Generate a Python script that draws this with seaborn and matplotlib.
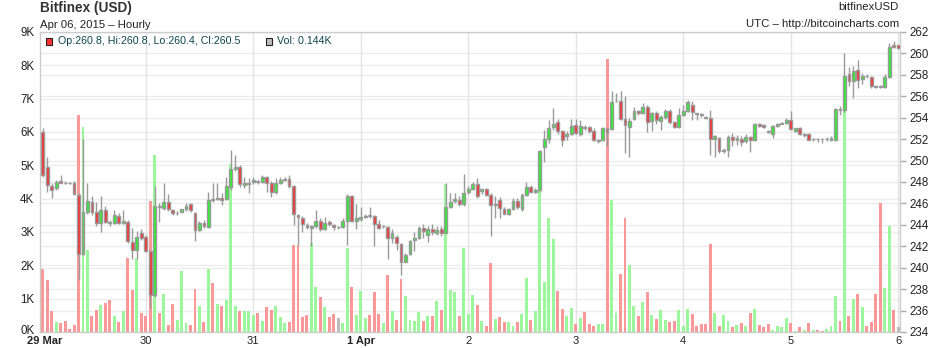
import numpy as np
import matplotlib
matplotlib.use("Agg")
import matplotlib.pyplot as plt
import matplotlib.transforms as mtransforms
from matplotlib.patches import Rectangle
import seaborn as sns

# ---------------- data (hourly, Mar 29 01:00 .. Apr 6 00:00) ----------------
opens = [252.7,249.4,247.6,247.4,248.05,247.95,247.95,247.9,246.8,241.3,245.2,246.1,245.2,244.2,245.4,244.25,
         244.2,244.8,244.2,244.3,242.4,241.7,243.2,242.9,241.6,237.5,245.75,245.6,246.1,245.4,245.1,245.2,
         245.5,245.9,245.1,243.5,244.2,243.8,246.45,246.4,246.5,246.4,247.5,249.2,249.4,247.7,247.8,248.0,
         248.1,248.0,248.5,247.9,247.1,247.9,248.2,248.3,247.6,244.9,244.6,244.0,243.7,243.9,244.4,243.6,
         244.3,243.95,243.8,243.8,244.4,246.7,244.4,244.55,244.75,244.9,244.8,244.1,243.85,243.8,242.8,242.9,
         242.2,240.55,241.3,242.6,242.8,243.7,243.1,243.6,243.25,243.6,243.25,245.7,246.2,246.3,245.95,247.05,
         247.35,247.8,247.15,247.35,246.8,245.9,246.3,245.5,245.05,245.45,246.2,245.45,246.8,247.5,247.1,247.25,
         251.3,252.05,253.1,253.6,252.75,252.3,252.45,253.3,252.45,253.1,253.1,252.8,251.8,251.9,253.0,252.95,
         255.55,255.6,253.9,253.15,253.85,254.6,254.4,255.0,253.65,254.45,253.7,254.1,254.6,253.6,253.1,254.25,
         254.65,255.2,254.4,254.32,254.05,254.0,252.05,252.1,250.9,250.95,252.2,251.9,252.0,251.85,252.2,251.9,
         253.4,253.3,252.8,252.5,253.2,253.45,253.5,253.75,252.75,253.0,252.4,252.45,251.98,252.02,252.02,251.98,
         251.95,251.95,254.85,254.7,258.05,257.4,258.45,257.65,257.92,257.8,256.92,256.92,256.9,257.8,260.8,260.8]
highs = [253.0,250.3,247.9,248.2,248.7,248.1,248.0,248.1,247.0,252.0,247.9,246.7,246.1,246.7,245.8,244.5,
         245.4,245.1,245.4,244.5,243.7,243.4,243.6,243.1,241.7,247.6,246.0,247.9,246.9,245.5,245.25,245.5,
         246.0,246.0,245.2,244.4,244.5,247.1,247.9,247.9,247.0,248.5,251.0,250.5,249.6,248.5,248.4,248.5,
         248.2,248.7,248.6,248.1,248.4,248.5,248.5,248.7,247.7,245.0,244.8,244.2,244.0,245.4,244.6,244.7,
         244.5,244.1,243.9,244.6,246.9,246.8,245.95,245.7,245.0,245.7,244.9,244.5,243.95,243.9,243.6,243.1,
         242.3,241.4,242.6,243.3,243.9,244.1,243.9,244.1,243.9,243.9,247.9,247.0,247.0,246.7,248.75,247.6,
         248.0,248.4,247.4,247.45,247.0,246.7,246.6,245.7,245.6,246.5,246.5,247.0,248.0,247.7,247.4,251.0,
         252.9,253.8,254.9,253.9,252.9,252.8,253.85,253.9,253.8,253.3,253.2,253.0,252.0,253.1,253.05,256.5,
         256.3,256.5,256.0,254.0,255.0,254.75,255.4,255.2,254.55,254.6,254.3,254.8,254.8,253.7,254.9,255.2,
         255.7,255.6,254.45,254.45,254.2,254.7,252.35,252.2,251.15,252.35,252.6,252.35,252.25,252.45,252.3,253.5,
         253.5,253.4,252.9,253.35,253.5,253.6,254.0,254.6,253.05,253.1,252.6,252.6,252.1,252.1,252.1,252.2,
         252.25,254.95,255.05,260.05,258.7,258.8,259.4,258.2,258.05,257.9,257.05,257.05,258.1,261.0,261.2,260.8]
lows = [248.5,247.1,246.5,247.3,247.9,247.8,247.8,246.8,238.9,241.2,245.0,244.9,243.9,243.3,244.2,243.9,
        244.1,244.1,244.1,242.3,240.8,240.8,242.6,241.5,236.2,237.3,244.3,245.4,245.3,244.9,244.95,245.2,
        245.3,245.2,242.5,243.4,243.7,243.7,246.1,246.3,245.9,246.3,247.3,249.0,247.5,247.4,247.0,247.8,
        247.8,247.9,247.1,246.6,246.9,247.8,248.1,247.4,244.0,242.1,243.3,243.6,242.0,243.7,243.4,243.5,
        243.9,243.5,243.6,243.7,242.1,244.3,243.6,244.4,244.6,244.6,242.0,243.6,243.7,240.8,242.3,241.7,
        239.3,240.5,241.2,241.6,242.7,242.8,242.4,243.1,243.1,243.0,243.2,245.6,246.0,245.8,245.8,246.9,
        247.3,246.5,246.9,246.7,243.0,244.6,244.6,245.0,244.95,245.35,245.5,245.3,246.7,246.95,246.95,247.1,
        249.9,251.6,252.9,252.5,251.4,251.9,252.35,252.5,252.3,252.9,252.6,251.8,251.6,251.8,251.35,252.9,
        255.5,253.8,250.7,250.35,253.8,254.3,254.35,252.65,252.8,253.4,252.9,253.9,253.45,253.0,253.0,254.15,
        254.5,253.8,253.8,254.1,253.9,250.5,250.35,250.75,250.75,250.35,251.4,251.45,251.35,251.65,250.8,251.8,
        253.1,253.0,252.6,252.1,253.15,253.4,253.4,252.9,252.65,252.35,252.2,251.9,251.8,251.75,251.6,251.8,
        251.85,251.85,254.3,254.55,257.0,255.85,256.8,257.1,257.75,256.8,256.8,256.8,256.8,257.75,260.5,260.4]
closes = [248.7,247.7,247.3,248.0,247.95,247.9,247.9,246.9,241.3,245.2,246.2,245.2,244.2,245.4,244.3,244.2,
          244.9,244.2,244.4,242.5,241.7,242.9,242.8,241.6,237.5,245.8,245.7,246.1,245.5,245.1,245.15,245.5,
          245.8,245.4,243.5,244.2,243.9,246.3,246.3,246.5,246.3,247.6,249.2,249.4,247.8,247.9,247.95,248.2,
          248.0,248.5,247.9,247.1,247.9,248.2,248.25,247.6,245.0,244.7,244.1,243.8,243.9,244.4,243.6,244.2,
          244.1,243.8,243.8,244.4,246.7,244.4,244.6,244.75,244.8,244.8,244.1,243.7,243.9,242.8,243.2,242.3,
          240.55,241.2,242.5,242.8,243.7,243.4,243.6,243.3,243.5,243.2,245.65,246.1,246.4,245.95,247.0,247.35,
          247.85,246.7,247.3,246.8,245.9,245.95,245.6,245.05,245.45,246.2,245.65,246.8,247.55,247.1,247.25,250.9,
          252.0,253.0,253.45,252.8,251.9,252.45,253.2,252.6,253.2,253.05,252.8,251.9,251.9,253.0,252.7,255.5,
          255.6,253.9,253.3,253.7,254.6,254.45,255.0,253.6,254.4,253.8,254.1,254.6,253.6,253.1,254.25,254.65,
          255.5,254.55,254.35,254.28,254.0,252.05,252.3,250.9,251.0,252.2,251.9,252.1,251.7,252.2,251.9,253.4,
          253.2,253.15,252.7,253.2,253.4,253.5,253.75,252.95,253.0,252.45,252.5,251.95,252.02,251.98,251.98,252.02,
          252.1,254.85,254.7,257.9,257.4,258.35,257.5,257.9,257.88,257.0,256.88,256.88,257.8,260.6,260.6,260.5]
volumes_k = [1.88,1.55,0.62,0.30,0.27,0.34,0.10,0.22,6.52,6.15,2.45,0.47,0.67,0.80,0.87,0.97,
             0.49,0.31,0.64,2.22,1.25,2.23,0.57,0.47,3.94,5.31,0.57,1.15,0.20,0.85,0.35,1.83,
             0.27,0.20,1.28,0.77,0.30,1.88,1.46,0.85,0.77,0.97,5.04,0.79,0.62,0.62,0.64,0.52,
             0.57,0.34,0.74,0.67,0.77,0.44,0.27,0.29,2.60,2.60,0.44,0.50,2.68,1.34,1.04,0.74,
             0.45,0.55,0.42,0.27,2.53,1.36,0.51,1.24,0.42,0.52,1.21,0.54,0.27,1.70,0.64,0.37,
             1.60,1.09,0.37,0.34,0.60,0.34,0.49,0.49,0.94,0.67,4.44,1.27,1.21,0.47,2.53,0.55,
             1.12,0.82,0.34,0.17,2.06,0.40,0.45,0.30,0.30,0.17,0.30,0.55,1.61,0.37,0.64,4.29,
             1.51,3.43,2.78,1.24,0.70,0.49,0.73,0.25,0.43,0.61,0.25,0.19,0.25,0.23,8.20,3.96,
             0.57,1.73,3.42,2.00,0.79,0.47,0.89,1.21,0.52,0.40,0.67,0.37,0.29,0.34,0.67,0.17,
             0.70,0.55,0.17,0.25,0.25,2.63,0.57,0.17,0.52,0.34,0.14,0.22,0.27,0.17,0.57,0.70,
             0.22,0.14,0.25,0.07,0.17,0.14,0.42,0.27,0.04,0.14,0.07,0.27,0.07,0.07,0.04,0.09,
             0.19,1.09,0.34,6.70,0.49,0.99,1.15,0.74,0.17,0.30,1.15,3.87,1.32,3.18,0.67,0.144]

day_ticks = [1.4, 24, 48, 72, 96, 120, 144, 168, 192]
day_labels = ["29 Mar", "30", "31", "1 Apr", "2", "3", "4", "5", "6"]
price_ticks = list(range(234, 263, 2))
vol_ticks = list(range(0, 10))
vol_labels = [f"{v}K" for v in vol_ticks]

# ---------------- styling ----------------
sns.set_theme(style="white")
plt.rcParams["font.family"] = ["Liberation Sans", "DejaVu Sans"]

UP, DN = "#2cf02c", "#f73232"
VUP, VDN, VNEU = "#9cf79c", "#fd9898", "#bdbdbd"
EDGE = "#9a9a9a"
GRID = "#ececec"

W, H = 940, 348
fig = plt.figure(figsize=(W / 100, H / 100), dpi=100)
fig.patch.set_facecolor("white")
L, R, T, B = 40, 900, 32, 332
ax = fig.add_axes([L / W, 1 - B / H, (R - L) / W, (B - T) / H])

hours = np.arange(1, len(opens) + 1)
o = np.array(opens); c = np.array(closes); hi = np.array(highs); lo = np.array(lows)
vol = np.array(volumes_k)

PMIN, PMAX, VMAX = 234, 262, 9
def v2p(v):
    return PMIN + np.asarray(v) * (PMAX - PMIN) / VMAX
def p2v(p):
    return (np.asarray(p) - PMIN) * VMAX / (PMAX - PMIN)

# gridlines
for p in price_ticks:
    ax.axhline(p, color=GRID, lw=1, zorder=0)
for v in vol_ticks:
    ax.axhline(v2p(v), color=GRID, lw=1, zorder=0)
for d in day_ticks[1:]:
    ax.axvline(d, color="#e4e4e4", lw=1, zorder=0)

# volume bars
vcols = [VUP if cc > oo else (VDN if cc < oo else VNEU) for oo, cc in zip(o, c)]
vcols[-1] = VNEU
ax.bar(hours, v2p(vol) - PMIN, bottom=PMIN, width=0.66, color=vcols, linewidth=0, zorder=1)

# candles
ax.vlines(hours, lo, hi, color=EDGE, lw=1, zorder=2)
bcols = [UP if cc > oo else (DN if cc < oo else EDGE) for oo, cc in zip(o, c)]
ax.bar(hours, np.abs(c - o), bottom=np.minimum(o, c), width=0.64, color=bcols,
       edgecolor=EDGE, linewidth=1, zorder=3)

ax.set_xlim(0.4, 192.4)
ax.set_ylim(PMIN, PMAX)

# right price axis
ax.yaxis.tick_right()
ax.set_yticks(price_ticks)
ax.set_yticklabels([str(p) for p in price_ticks])
ax.tick_params(axis="y", right=True, length=4, width=1, color="#aaaaaa", pad=3,
               labelsize=8.3, labelcolor="#222222")

# left volume axis
sec = ax.secondary_yaxis("left", functions=(p2v, v2p))
sec.set_yticks(vol_ticks)
sec.set_yticklabels(vol_labels)
sec.tick_params(axis="y", length=0, pad=4, labelsize=8.3, labelcolor="#222222")
sec.spines["left"].set_visible(False)
lift = mtransforms.ScaledTranslation(0, 2.5 / 100, fig.dpi_scale_trans)
for lab in sec.get_yticklabels():
    if lab.get_text() == "0K":
        lab.set_transform(lab.get_transform() + lift)

# x axis
ax.set_xticks(day_ticks)
ax.set_xticklabels(day_labels)
ax.tick_params(axis="x", length=0, pad=3.2, labelsize=8, labelcolor="#222222")
for lab in ax.get_xticklabels():
    if lab.get_text() in ("29 Mar", "1 Apr"):
        lab.set_fontweight("bold")

for s in ax.spines.values():
    s.set_color("#cccccc")
    s.set_linewidth(1)

# header texts
def fx(x): return x / W
def fy(y): return 1 - y / H
fig.text(fx(40), fy(8), "Bitfinex (USD)", fontsize=9.8, fontweight="bold", color="#333333", va="center", ha="left")
fig.text(fx(40), fy(25), "Apr 06, 2015 \u2013 Hourly", fontsize=8.2, color="#222222", va="center", ha="left")
fig.text(fx(899), fy(7), "bitfinexUSD", fontsize=8.2, color="#222222", va="center", ha="right")
fig.text(fx(899), fy(24), "UTC \u2013 http://bitcoincharts.com", fontsize=8.2, color="#222222", va="center", ha="right")

# legend boxes
fig.patches.append(Rectangle((fx(45.5), fy(44.5)), 6.5 / W, 6.5 / H, transform=fig.transFigure,
                             facecolor="#ff3030", edgecolor="#222222", lw=0.8, zorder=5))
fig.text(fx(57.5), fy(41), "Op:260.8, Hi:260.8, Lo:260.4, Cl:260.5", fontsize=7.7, color="#0e4550",
         va="center", ha="left", zorder=5)
fig.patches.append(Rectangle((fx(265.5), fy(44.5)), 6.5 / W, 6.5 / H, transform=fig.transFigure,
                             facecolor="#bdbdbd", edgecolor="#222222", lw=0.8, zorder=5))
fig.text(fx(277), fy(41), "Vol: 0.144K", fontsize=7.7, color="#0e4550", va="center", ha="left", zorder=5)

fig.savefig("out.png", dpi=100, facecolor="white")
